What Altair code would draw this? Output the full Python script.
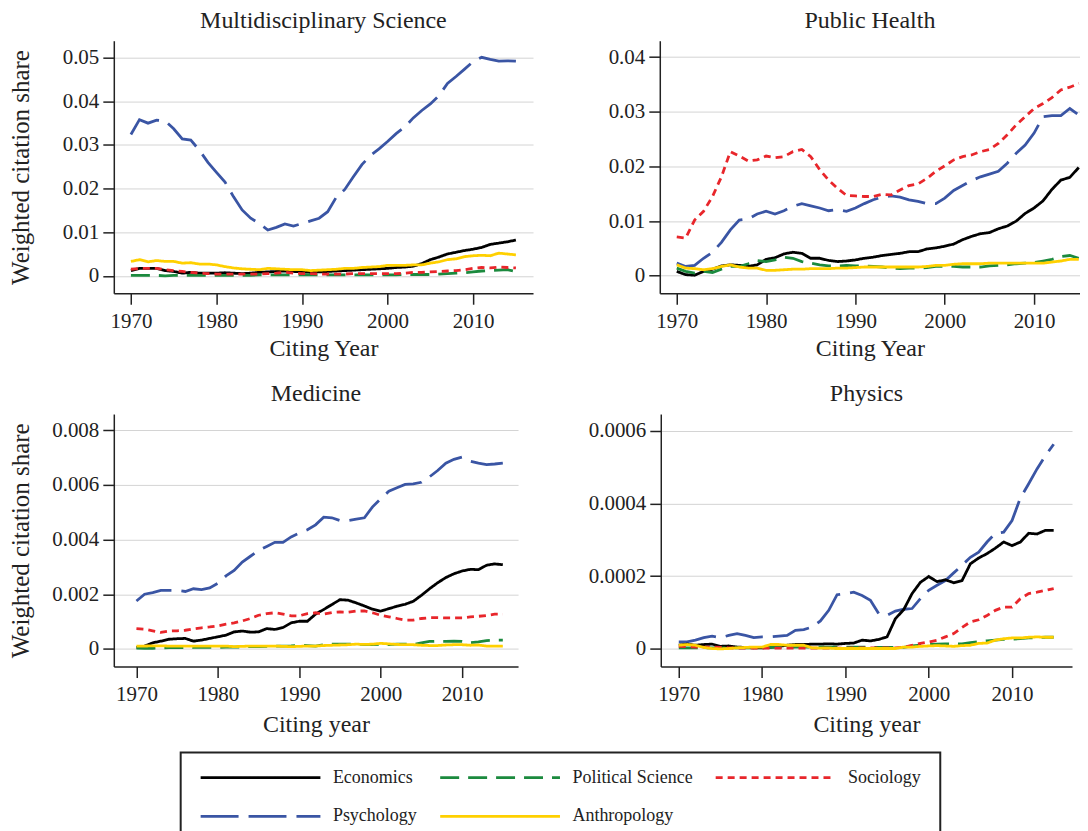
import altair as alt
import pandas as pd

FONT = "Liberation Serif"
YEARS = list(range(1970, 2016))
X_TICKS = [1970, 1980, 1990, 2000, 2010]

DISCIPLINES = ["Economics", "Political Science", "Sociology", "Psychology", "Anthropology"]
COLORS = ["#000000", "#1B8A3E", "#E8262B", "#3A55A4", "#FFD000"]
DASHES = [[1, 0], [19, 9], [7, 5], [38, 10], [1, 0]]
DRAW_ORDER = ["Psychology", "Economics", "Political Science", "Sociology", "Anthropology"]

# ---- Multidisciplinary Science ----
MULTI_PSY = [0.0324, 0.0358, 0.0350, 0.0357, 0.0355, 0.0337, 0.0314, 0.0311, 0.0288, 0.0260,
             0.0237, 0.0215, 0.0181, 0.0151, 0.0132, 0.0120, 0.0105, 0.0111, 0.0119, 0.0114,
             0.0120, 0.0126, 0.0132, 0.0147, 0.0180, 0.0198, 0.0227, 0.0255, 0.0276, 0.0291,
             0.0308, 0.0326, 0.0341, 0.0362, 0.0379, 0.0394, 0.0413, 0.0441, 0.0457, 0.0474,
             0.0491, 0.0501, 0.0496, 0.0492, 0.0493, 0.0492]
MULTI_ECON = [0.0012, 0.0017, 0.0017, 0.0017, 0.0012, 0.0010, 0.0006, 0.0008, 0.0006, 0.0006,
              0.0006, 0.0007, 0.0006, 0.0005, 0.0006, 0.0008, 0.0009, 0.0010, 0.0011, 0.0010,
              0.0009, 0.0008, 0.0009, 0.0010, 0.0011, 0.0012, 0.0013, 0.0014, 0.0015, 0.0016,
              0.0017, 0.0019, 0.0020, 0.0022, 0.0028, 0.0037, 0.0043, 0.0050, 0.0054, 0.0058,
              0.0061, 0.0065, 0.0072, 0.0075, 0.0078, 0.0082]
MULTI_POL = [0.0001, 0.0001, 0.0001, 0.0001, 0.0000, 0.0001, 0.0001, 0.0001, 0.0001, 0.0001,
             0.0001, 0.0001, 0.0001, 0.0001, 0.0001, 0.0002, 0.0002, 0.0002, 0.0002, 0.0002,
             0.0002, 0.0002, 0.0002, 0.0002, 0.0002, 0.0002, 0.0002, 0.0002, 0.0002, 0.0002,
             0.0002, 0.0002, 0.0003, 0.0003, 0.0003, 0.0003, 0.0004, 0.0005, 0.0006, 0.0007,
             0.0009, 0.0011, 0.0012, 0.0013, 0.0014, 0.0010]
MULTI_SOC = [0.0015, 0.0017, 0.0017, 0.0017, 0.0014, 0.0012, 0.0010, 0.0008, 0.0006, 0.0005,
             0.0004, 0.0004, 0.0004, 0.0004, 0.0004, 0.0004, 0.0005, 0.0006, 0.0008, 0.0006,
             0.0005, 0.0005, 0.0004, 0.0004, 0.0004, 0.0004, 0.0005, 0.0005, 0.0005, 0.0005,
             0.0005, 0.0005, 0.0006, 0.0008, 0.0008, 0.0009, 0.0010, 0.0011, 0.0012, 0.0014,
             0.0017, 0.0019, 0.0018, 0.0020, 0.0019, 0.0018]
MULTI_ANTH = [0.0033, 0.0037, 0.0032, 0.0035, 0.0033, 0.0033, 0.0029, 0.0030, 0.0027, 0.0027,
              0.0025, 0.0021, 0.0018, 0.0016, 0.0015, 0.0014, 0.0017, 0.0016, 0.0015, 0.0014,
              0.0014, 0.0012, 0.0013, 0.0014, 0.0015, 0.0017, 0.0017, 0.0019, 0.0020, 0.0021,
              0.0024, 0.0024, 0.0024, 0.0025, 0.0025, 0.0029, 0.0032, 0.0037, 0.0039, 0.0044,
              0.0046, 0.0047, 0.0046, 0.0052, 0.0050, 0.0048]

# ---- Public Health ----
PH_PSY = [0.0023, 0.0017, 0.0019, 0.0032, 0.0043, 0.0061, 0.0084, 0.0102, 0.0104, 0.0113,
          0.0118, 0.0113, 0.0119, 0.0127, 0.0132, 0.0128, 0.0124, 0.0119, 0.0121, 0.0118,
          0.0124, 0.0132, 0.0139, 0.0144, 0.0146, 0.0144, 0.0139, 0.0136, 0.0132, 0.0132,
          0.0142, 0.0156, 0.0165, 0.0174, 0.0181, 0.0186, 0.0191, 0.0206, 0.0224, 0.0239,
          0.0261, 0.0291, 0.0293, 0.0293, 0.0306, 0.0294]
PH_ECON = [0.0008, 0.0002, 0.0001, 0.0008, 0.0012, 0.0018, 0.0020, 0.0019, 0.0017, 0.0020,
           0.0030, 0.0033, 0.0040, 0.0043, 0.0041, 0.0032, 0.0032, 0.0028, 0.0026, 0.0027,
           0.0029, 0.0032, 0.0034, 0.0037, 0.0039, 0.0041, 0.0044, 0.0044, 0.0049, 0.0051,
           0.0054, 0.0058, 0.0066, 0.0072, 0.0077, 0.0079, 0.0086, 0.0091, 0.0100, 0.0114,
           0.0124, 0.0137, 0.0158, 0.0175, 0.0180, 0.0198]
PH_POL = [0.0014, 0.0008, 0.0005, 0.0008, 0.0006, 0.0012, 0.0017, 0.0017, 0.0022, 0.0028,
          0.0026, 0.0029, 0.0034, 0.0032, 0.0026, 0.0023, 0.0020, 0.0018, 0.0018, 0.0019,
          0.0018, 0.0018, 0.0017, 0.0016, 0.0014, 0.0013, 0.0014, 0.0014, 0.0015, 0.0017,
          0.0017, 0.0017, 0.0016, 0.0016, 0.0016, 0.0018, 0.0019, 0.0020, 0.0022, 0.0023,
          0.0024, 0.0027, 0.0030, 0.0035, 0.0037, 0.0032]
PH_SOC = [0.0071, 0.0069, 0.0102, 0.0118, 0.0145, 0.0181, 0.0227, 0.0219, 0.0210, 0.0212,
          0.0219, 0.0216, 0.0218, 0.0227, 0.0231, 0.0218, 0.0194, 0.0175, 0.0160, 0.0147,
          0.0146, 0.0145, 0.0145, 0.0149, 0.0148, 0.0157, 0.0165, 0.0168, 0.0178, 0.0191,
          0.0201, 0.0212, 0.0218, 0.0221, 0.0227, 0.0231, 0.0242, 0.0258, 0.0276, 0.0291,
          0.0306, 0.0315, 0.0326, 0.0340, 0.0345, 0.0352]
PH_ANTH = [0.0020, 0.0014, 0.0013, 0.0011, 0.0013, 0.0017, 0.0020, 0.0016, 0.0014, 0.0014,
           0.0010, 0.0010, 0.0011, 0.0012, 0.0012, 0.0013, 0.0013, 0.0013, 0.0014, 0.0014,
           0.0015, 0.0016, 0.0016, 0.0016, 0.0016, 0.0016, 0.0016, 0.0016, 0.0017, 0.0019,
           0.0019, 0.0021, 0.0022, 0.0022, 0.0022, 0.0023, 0.0023, 0.0023, 0.0023, 0.0023,
           0.0023, 0.0023, 0.0025, 0.0027, 0.0030, 0.0030]

# ---- Medicine ----
MED_PSY = [0.00175, 0.00200, 0.00206, 0.00214, 0.00214, 0.00214, 0.00210, 0.00220, 0.00217, 0.00223,
           0.00240, 0.00267, 0.00287, 0.00318, 0.00339, 0.00360, 0.00375, 0.00390, 0.00390, 0.00410,
           0.00424, 0.00436, 0.00454, 0.00482, 0.00480, 0.00470, 0.00470, 0.00475, 0.00480, 0.00520,
           0.00550, 0.00577, 0.00590, 0.00602, 0.00604, 0.00610, 0.00630, 0.00653, 0.00680, 0.00694,
           0.00702, 0.00687, 0.00680, 0.00675, 0.00677, 0.00680]
MED_ECON = [0.00005, 0.00010, 0.00022, 0.00028, 0.00035, 0.00037, 0.00038, 0.00028, 0.00032, 0.00038,
            0.00044, 0.00050, 0.00062, 0.00065, 0.00061, 0.00062, 0.00074, 0.00071, 0.00078, 0.00095,
            0.00101, 0.00101, 0.00127, 0.00144, 0.00162, 0.00180, 0.00178, 0.00168, 0.00157, 0.00145,
            0.00138, 0.00147, 0.00156, 0.00163, 0.00174, 0.00196, 0.00220, 0.00242, 0.00261, 0.00275,
            0.00285, 0.00291, 0.00290, 0.00306, 0.00311, 0.00308]
MED_POL = [0.00003, 0.00002, 0.00002, 0.00003, 0.00004, 0.00004, 0.00004, 0.00005, 0.00005, 0.00005,
           0.00005, 0.00006, 0.00006, 0.00007, 0.00008, 0.00008, 0.00009, 0.00010, 0.00010, 0.00011,
           0.00013, 0.00012, 0.00010, 0.00015, 0.00017, 0.00017, 0.00017, 0.00017, 0.00015, 0.00015,
           0.00017, 0.00015, 0.00017, 0.00017, 0.00015, 0.00022, 0.00027, 0.00028, 0.00027, 0.00028,
           0.00027, 0.00022, 0.00025, 0.00030, 0.00032, 0.00032]
MED_SOC = [0.00074, 0.00072, 0.00066, 0.00060, 0.00065, 0.00066, 0.00068, 0.00073, 0.00077, 0.00080,
           0.00084, 0.00090, 0.00095, 0.00102, 0.00111, 0.00123, 0.00129, 0.00132, 0.00127, 0.00121,
           0.00121, 0.00129, 0.00132, 0.00127, 0.00133, 0.00135, 0.00134, 0.00138, 0.00139, 0.00132,
           0.00123, 0.00117, 0.00111, 0.00105, 0.00105, 0.00111, 0.00114, 0.00114, 0.00113, 0.00113,
           0.00113, 0.00117, 0.00119, 0.00122, 0.00127, 0.00127]
MED_ANTH = [0.00010, 0.00010, 0.00011, 0.00011, 0.00010, 0.00010, 0.00010, 0.00010, 0.00010, 0.00010,
            0.00010, 0.00010, 0.00008, 0.00009, 0.00010, 0.00010, 0.00010, 0.00010, 0.00009, 0.00008,
            0.00009, 0.00010, 0.00010, 0.00012, 0.00013, 0.00014, 0.00015, 0.00017, 0.00016, 0.00017,
            0.00020, 0.00018, 0.00016, 0.00015, 0.00015, 0.00013, 0.00012, 0.00012, 0.00014, 0.00015,
            0.00015, 0.00013, 0.00014, 0.00010, 0.00010, 0.00010]

# ---- Physics ----
PHYS_PSY = [0.000019, 0.000019, 0.000024, 0.000031, 0.000035, 0.000031, 0.000037, 0.000042, 0.000037, 0.000031,
            0.000033, 0.000033, 0.000035, 0.000037, 0.000051, 0.000053, 0.000060, 0.000077, 0.000106, 0.000149,
            0.000152, 0.000156, 0.000147, 0.000134, 0.000097, 0.000092, 0.000104, 0.000109, 0.000111, 0.000138,
            0.000161, 0.000175, 0.000188, 0.000209, 0.000230, 0.000252, 0.000266, 0.000294, 0.000318, 0.000321,
            0.000353, 0.000415, 0.000454, 0.000495, 0.000531, 0.000563]
PHYS_ECON = [0.000010, 0.000013, 0.000010, 0.000012, 0.000013, 0.000007, 0.000008, 0.000005, 0.000004, 0.000003,
             0.000003, 0.000004, 0.000007, 0.000010, 0.000012, 0.000012, 0.000013, 0.000013, 0.000014, 0.000013,
             0.000015, 0.000016, 0.000024, 0.000022, 0.000026, 0.000033, 0.000083, 0.000108, 0.000152, 0.000183,
             0.000199, 0.000185, 0.000190, 0.000182, 0.000188, 0.000234, 0.000250, 0.000262, 0.000277, 0.000294,
             0.000284, 0.000294, 0.000318, 0.000316, 0.000326, 0.000326]
PHYS_POL = [0.000003, 0.000003, 0.000003, 0.000003, 0.000003, 0.000003, 0.000003, 0.000003, 0.000003, 0.000003,
            0.000003, 0.000004, 0.000004, 0.000004, 0.000005, 0.000005, 0.000005, 0.000005, 0.000005, 0.000005,
            0.000005, 0.000005, 0.000005, 0.000004, 0.000004, 0.000004, 0.000004, 0.000004, 0.000008, 0.000010,
            0.000012, 0.000013, 0.000014, 0.000013, 0.000014, 0.000017, 0.000020, 0.000022, 0.000024, 0.000026,
            0.000027, 0.000028, 0.000030, 0.000031, 0.000032, 0.000032]
PHYS_SOC = [0.000007, 0.000006, 0.000005, 0.000005, 0.000005, 0.000004, 0.000003, 0.000002, 0.000002, 0.000002,
            0.000002, 0.000002, 0.000002, 0.000002, 0.000002, 0.000002, 0.000002, 0.000002, 0.000002, 0.000002,
            0.000002, 0.000003, 0.000003, 0.000003, 0.000003, 0.000003, 0.000003, 0.000005, 0.000010, 0.000015,
            0.000019, 0.000024, 0.000033, 0.000042, 0.000059, 0.000074, 0.000080, 0.000092, 0.000106, 0.000115,
            0.000115, 0.000138, 0.000152, 0.000156, 0.000161, 0.000166]
PHYS_ANTH = [0.000010, 0.000012, 0.000010, 0.000004, 0.000001, 0.000000, 0.000001, 0.000003, 0.000004, 0.000005,
             0.000005, 0.000012, 0.000012, 0.000010, 0.000010, 0.000010, 0.000003, 0.000002, 0.000002, 0.000001,
             0.000001, 0.000001, 0.000001, 0.000001, 0.000001, 0.000001, 0.000001, 0.000005, 0.000005, 0.000007,
             0.000008, 0.000009, 0.000008, 0.000007, 0.000009, 0.000010, 0.000015, 0.000016, 0.000024, 0.000028,
             0.000030, 0.000030, 0.000032, 0.000033, 0.000032, 0.000032]


def frame(series):
    rows = []
    for disc in DRAW_ORDER:
        for yr, val in zip(YEARS, series[disc]):
            rows.append({"year": yr, "share": val, "discipline": disc})
    return pd.DataFrame(rows)


LEGEND = alt.Legend(
    title=None, orient="none", legendX=67, legendY=713, columns=3, direction="horizontal",
    symbolType="stroke", symbolSize=14400, symbolStrokeWidth=2.8,
    labelFont=FONT, labelFontSize=18, labelColor="#222", labelOffset=11,
    columnPadding=21, rowPadding=20, clipHeight=13, padding=18.5,
    strokeColor="#222",
)


def panel(title, series, xtitle, xdomain, width, ydomain, yticks, ytitle, title_x, xtitle_pad):
    yaxis_kwargs = dict(values=yticks, format="~g", grid=True, labelPadding=4)
    if ytitle:
        yaxis_kwargs.update(title=ytitle, titleFontSize=25, titleX=title_x)
    else:
        yaxis_kwargs.update(title=None)
    return (
        alt.Chart(frame(series), title=alt.TitleParams(
            title, font=FONT, fontSize=24, fontWeight="normal", color="#222", offset=8))
        .mark_line(strokeWidth=2.8, strokeCap="butt", clip=True)
        .encode(
            x=alt.X("year:Q", scale=alt.Scale(domain=xdomain, nice=False, zero=False),
                    axis=alt.Axis(values=X_TICKS, format="d", title=xtitle, grid=False,
                                  labelPadding=6, titlePadding=xtitle_pad)),
            y=alt.Y("share:Q", scale=alt.Scale(domain=ydomain, nice=False, zero=False),
                    axis=alt.Axis(**yaxis_kwargs)),
            color=alt.Color("discipline:N", scale=alt.Scale(domain=DISCIPLINES, range=COLORS),
                            legend=LEGEND),
            strokeDash=alt.StrokeDash("discipline:N",
                                      scale=alt.Scale(domain=DISCIPLINES, range=DASHES),
                                      legend=LEGEND),
        )
        .properties(width=width, height=253)
    )


multi = panel("Multidisciplinary Science",
              {"Psychology": MULTI_PSY, "Economics": MULTI_ECON, "Political Science": MULTI_POL,
               "Sociology": MULTI_SOC, "Anthropology": MULTI_ANTH},
              "Citing Year", [1968.0, 2017.0], 420, [-0.0040, 0.0539],
              [0, 0.01, 0.02, 0.03, 0.04, 0.05], "Weighted citation share", -80, 5)
health = panel("Public Health",
               {"Psychology": PH_PSY, "Economics": PH_ECON, "Political Science": PH_POL,
                "Sociology": PH_SOC, "Anthropology": PH_ANTH},
               "Citing Year", [1968.1, 2015.14], 421, [-0.0032, 0.0430],
               [0, 0.01, 0.02, 0.03, 0.04], None, 0, 5)
medicine = panel("Medicine",
                 {"Psychology": MED_PSY, "Economics": MED_ECON, "Political Science": MED_POL,
                  "Sociology": MED_SOC, "Anthropology": MED_ANTH},
                 "Citing year", [1967.22, 2016.87], 405, [-0.00065, 0.0086],
                 [0, 0.002, 0.004, 0.006, 0.008], "Weighted citation share", -80, 8)
physics = panel("Physics",
                {"Psychology": PHYS_PSY, "Economics": PHYS_ECON, "Political Science": PHYS_POL,
                 "Sociology": PHYS_SOC, "Anthropology": PHYS_ANTH},
                "Citing year", [1967.84, 2017.2], 412, [-0.0000486, 0.000646],
                [0, 0.0002, 0.0004, 0.0006], None, 0, 8)

top = alt.hconcat(multi, health, spacing=75)
bottom = alt.hconcat(medicine, physics, spacing=70)

chart = (
    alt.vconcat(top, bottom, spacing=22, padding=0)
    .configure_view(stroke=None)
    .configure_axis(
        domainColor="#222", domainWidth=1.5, tickColor="#222", tickWidth=1.5, tickSize=11,
        labelFont=FONT, labelFontSize=21, labelColor="#222",
        titleFont=FONT, titleFontSize=24, titleFontWeight="normal", titleColor="#222",
        gridColor="#D4D4D4", gridWidth=1,
    )
    .configure_legend(strokeWidth=2)
)

chart.save("out.html", embed_options={"renderer": "svg", "actions": False})
